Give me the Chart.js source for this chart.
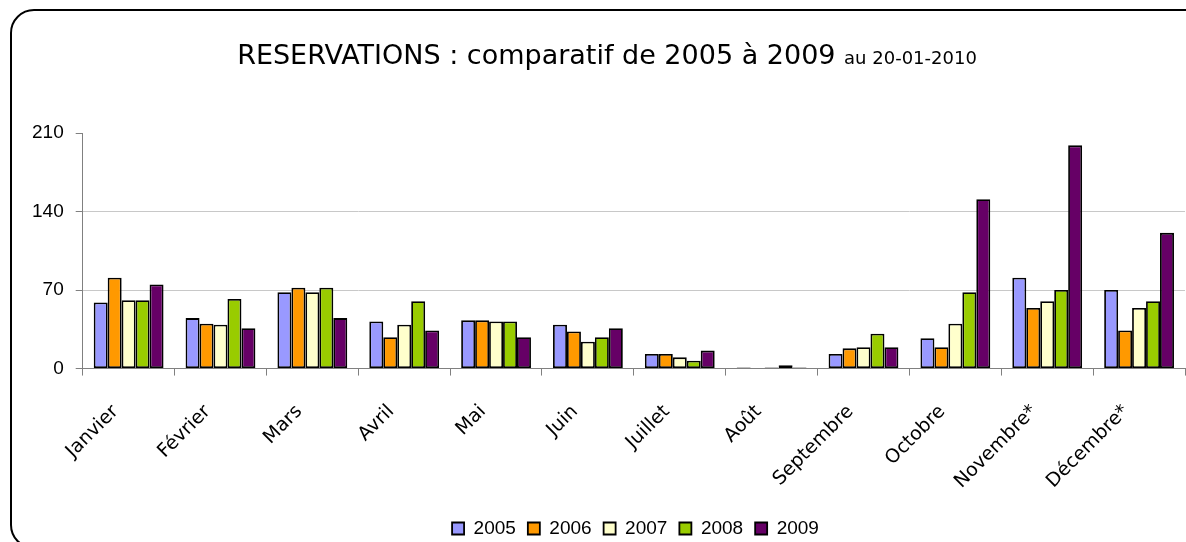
<!DOCTYPE html>
<html lang="fr">
<head>
    <meta charset="UTF-8">
    <title>RESERVATIONS : comparatif de 2005 à 2009</title>
    <script src="https://cdn.jsdelivr.net/npm/chart.js"></script>
    <style>
        html, body { margin: 0; padding: 0; background: #fff; overflow: hidden; }
        #wrap { position: relative; width: 1186px; height: 542px; overflow: hidden; }
        #frame {
            position: absolute; left: 10px; top: 9px; width: 1220px; height: 540px;
            border: 2px solid #000; border-radius: 24px; box-sizing: border-box;
            pointer-events: none;
        }
        #title {
            position: absolute; left: 0; top: 39px; width: 1214px; text-align: center;
            font-family: 'Comic Sans MS', 'DejaVu Sans', sans-serif; color: #000;
            font-size: 27px; white-space: nowrap;
        }
        #title small { font-size: 18px; }
        canvas { position: absolute; left: 0; top: 0; }
    </style>
</head>
<body>
<div id="wrap">
    <canvas id="myChart" width="1186" height="548"></canvas>
    <div id="frame"></div>
    <div id="title">RESERVATIONS : comparatif de 2005 à 2009 <small>au 20-01-2010</small></div>
</div>
<script>
    // months (the * ones are still open)
    const months = ['Janvier', 'Février', 'Mars', 'Avril', 'Mai', 'Juin', 'Juillet', 'Août',
        'Septembre', 'Octobre', 'Novembre*', 'Décembre*'];

    const res2005 = [59, 45, 68, 42, 43, 39, 13, 1, 13, 27, 81, 70];
    const res2006 = [81, 40, 72, 28, 43, 33, 13, 0, 18, 19, 54, 34];
    const res2007 = [61, 39, 68, 39, 42, 24, 10, 1, 19, 40, 60, 54];
    const res2008 = [61, 62, 72, 60, 42, 28, 7, 3, 31, 68, 70, 60];
    const res2009 = [75, 36, 45, 34, 28, 36, 16, 1, 19, 151, 199, 121];

    const yTicks = [0, 70, 140, 210];

    const makeSet = (label, data, color) => ({
        label: label,
        data: data,
        backgroundColor: color,
        borderColor: '#000',
        borderWidth: 1.8,
        borderSkipped: false,
        categoryPercentage: 0.76,
        barPercentage: 1.0
    });

    // the original legend sits a bit right of the middle
    const shiftLegend = {
        id: 'shiftLegend',
        afterLayout: (chart) => {
            chart.legend.left += 33;
            chart.legend.right += 33;
        }
    };

    const ctx = document.getElementById('myChart').getContext('2d');
    const myChart = new Chart(ctx, {
        type: 'bar',
        data: {
            labels: months,
            datasets: [
                makeSet('2005', res2005, '#9999FF'),
                makeSet('2006', res2006, '#FF9900'),
                makeSet('2007', res2007, '#FFFFCC'),
                makeSet('2008', res2008, '#99CC00'),
                makeSet('2009', res2009, '#660066')
            ]
        },
        plugins: [shiftLegend],
        options: {
            responsive: false,
            animation: false,
            layout: {
                padding: { top: 133, left: 20, right: 1, bottom: 0 }
            },
            plugins: {
                title: { display: false },
                tooltip: { enabled: false },
                legend: {
                    position: 'bottom',
                    labels: {
                        boxWidth: 12,
                        boxHeight: 12,
                        padding: 12,
                        color: '#000',
                        font: { family: "'Liberation Sans', Arial, sans-serif", size: 19 }
                    }
                }
            },
            scales: {
                x: {
                    grid: {
                        offset: true,
                        drawOnChartArea: false,
                        tickLength: 7,
                        tickColor: '#808080'
                    },
                    border: { color: '#808080', width: 1 },
                    ticks: {
                        minRotation: 45,
                        maxRotation: 45,
                        padding: 25,
                        labelOffset: -13,
                        color: '#000',
                        font: { family: "'Comic Sans MS', 'DejaVu Sans', sans-serif", size: 19 }
                    },
                    afterFit: (axis) => { axis.height -= 11; }
                },
                y: {
                    min: 0,
                    max: 210,
                    afterBuildTicks: (axis) => {
                        axis.ticks = yTicks.map(v => ({ value: v }));
                    },
                    grid: {
                        color: (c) => (c.tick && c.tick.value === 210) ? 'rgba(0,0,0,0)' : '#c8c8c8',
                        tickColor: '#808080',
                        tickLength: 7
                    },
                    border: { color: '#808080', width: 1 },
                    ticks: {
                        padding: 12,
                        color: '#000',
                        font: { family: "'Liberation Sans', Arial, sans-serif", size: 19 }
                    }
                }
            }
        }
    });
</script>
</body>
</html>
